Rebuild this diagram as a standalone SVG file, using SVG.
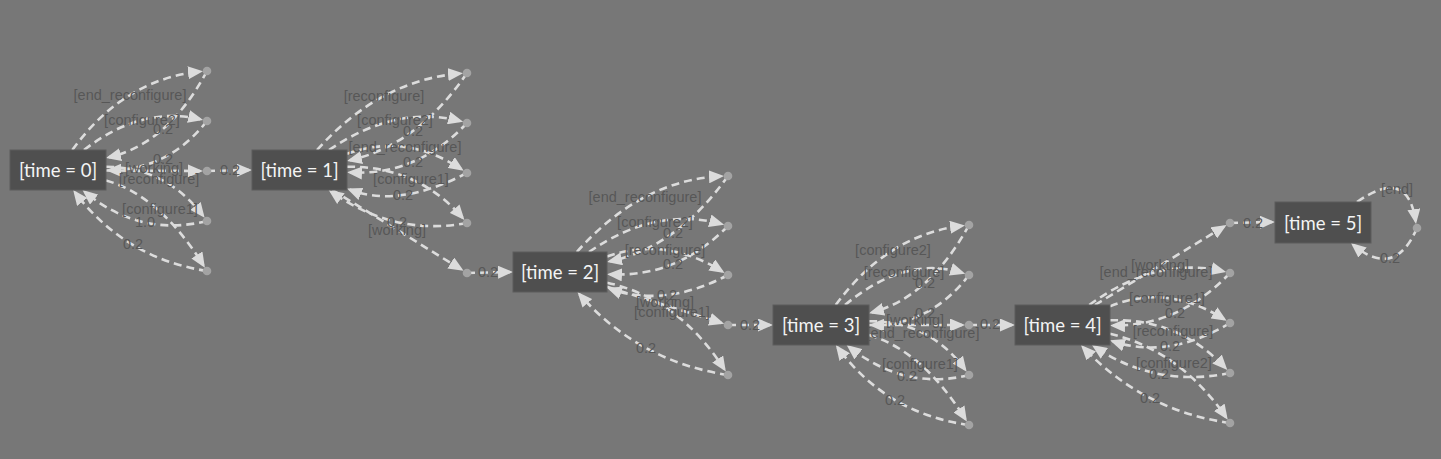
<svg xmlns="http://www.w3.org/2000/svg" width="1441" height="459" viewBox="0 0 1441 459">
<defs>
<marker id="ah" markerUnits="userSpaceOnUse" markerWidth="15" markerHeight="13" refX="12" refY="6.5" orient="auto" viewBox="0 0 15 13">
<path d="M0,0 L15,6.5 L0,13 z" fill="#dcdcdc"/>
</marker>
<style>
.e{fill:none;stroke:#dcdcdc;stroke-width:2.6;stroke-dasharray:8 5;marker-end:url(#ah)}
.l{font-family:"Liberation Sans",Arial,sans-serif;font-size:14.5px;fill:#575757;text-anchor:middle;dominant-baseline:central}
.b{fill:#4f4f4f;stroke:#5c5c5c;stroke-width:1}
.t{font-family:Lato,"Open Sans",sans-serif;font-size:18.5px;fill:#f4f4f4;text-anchor:middle;dominant-baseline:central}
.d{fill:#a3a3a3}
</style>
</defs>
<rect width="1441" height="459" fill="#777777"/>
<g id="connectors">
<!-- group 0 -->
<path class="e" d="M72.3,150 Q123.85,79.2 200,71.6"/>
<path class="e" d="M207,71 Q168.05,143.85 108.9,157.3"/>
<path class="e" d="M84,150 Q141.9,105.35 200.2,119.3"/>
<path class="e" d="M207,121 Q168,170.4 109,170.2"/>
<path class="e" d="M106,170.5 L200,171"/>
<path class="e" d="M207,171 L249,170"/>
<path class="e" d="M106,166.8 Q165.6,166.9 202.8,215.4"/>
<path class="e" d="M207,221 Q140.1,237.5 84.8,192"/>
<path class="e" d="M106,180.5 Q159.35,195.2 203.3,265.1"/>
<path class="e" d="M207,271 Q125,258.3 75,192.4"/>
<!-- group 1 -->
<path class="e" d="M317,150 Q379.55,80.25 460,73.5"/>
<path class="e" d="M467,73 Q417.55,145.25 349.9,160.3"/>
<path class="e" d="M329,150 Q396.2,104.45 460.25,121.1"/>
<path class="e" d="M467,123 Q417.5,175.8 350,172.5"/>
<path class="e" d="M347,153.8 Q405.9,132.5 461.2,169.15"/>
<path class="e" d="M467,173 Q397.6,208.75 349.8,189.5"/>
<path class="e" d="M347,166.7 Q417.25,165.8 462.5,217.7"/>
<path class="e" d="M467,223 Q394.95,236.6 331.1,191.8"/>
<path class="e" d="M332.4,190 L461,269.3"/>
<path class="e" d="M467,273 L510,272"/>
<!-- group 2 -->
<path class="e" d="M576.8,252 Q641.1,179.9 721,176.25"/>
<path class="e" d="M728,176 Q677.05,247.3 609.9,261.3"/>
<path class="e" d="M589,252 Q655.85,206 721.3,224"/>
<path class="e" d="M728,226 Q677,277.8 610,274.3"/>
<path class="e" d="M607,256.4 Q665.5,236.15 722,271.3"/>
<path class="e" d="M728,275 Q665.1,308.1 609.8,288.8"/>
<path class="e" d="M607,286.8 L721.3,322.9"/>
<path class="e" d="M728,325 L770,325"/>
<path class="e" d="M607,282.7 Q678.4,298.1 724.2,369.1"/>
<path class="e" d="M728,375 Q638.25,361.35 579.5,294.3"/>
<!-- group 3 -->
<path class="e" d="M835.7,305 Q887.5,234.6 962,225.8"/>
<path class="e" d="M969,225 Q929.55,297.3 871.9,312.4"/>
<path class="e" d="M845,305 Q905.1,255.1 962.35,272.8"/>
<path class="e" d="M969,275 Q929.5,326 872,325.1"/>
<path class="e" d="M869,325 L962,325"/>
<path class="e" d="M969,325 L1012,325"/>
<path class="e" d="M869,321.2 Q929.05,320.75 964.9,369.3"/>
<path class="e" d="M969,375 Q905,391 849,346.9"/>
<path class="e" d="M869,335 Q922.85,351 965.3,419"/>
<path class="e" d="M969,425 Q886.7,413.8 837.6,347.4"/>
<!-- group 4 -->
<path class="e" d="M1094.9,305 L1224,226.6"/>
<path class="e" d="M1230,223 L1272,222"/>
<path class="e" d="M1089.3,305 Q1156.55,255.85 1223.2,271.3"/>
<path class="e" d="M1230,273 Q1178.5,326.75 1113,325.5"/>
<path class="e" d="M1110,306.4 Q1166.95,283.2 1224.1,319.2"/>
<path class="e" d="M1230,323 Q1168.6,359.85 1112.8,341.3"/>
<path class="e" d="M1110,320.3 Q1178.35,317.9 1225.3,367.85"/>
<path class="e" d="M1230,373 Q1155.8,388.15 1094.4,346.7"/>
<path class="e" d="M1110,333.7 Q1180,350.55 1226.05,417.2"/>
<path class="e" d="M1230,423 Q1143.5,410.9 1083,347.2"/>
<!-- group 5 -->
<path class="e" d="M1357,202 Q1407.7,166.45 1415.6,221.1"/>
<path class="e" d="M1417,228 Q1394.85,279.55 1353.3,244.9"/>
</g>
<g id="edge-labels">
<text class="l" x="130" y="95">[end_reconfigure]</text>
<text class="l" x="142" y="120">[configure2]</text>
<text class="l" x="163" y="129">0.2</text>
<text class="l" x="163" y="159">0.2</text>
<text class="l" x="154" y="168">[working]</text>
<text class="l" x="159" y="179">[reconfigure]</text>
<text class="l" x="160" y="209">[configure1]</text>
<text class="l" x="145" y="222">1.0</text>
<text class="l" x="133" y="244">0.2</text>
<text class="l" x="230" y="170">0.2</text>

<text class="l" x="384" y="96">[reconfigure]</text>
<text class="l" x="395" y="120">[configure2]</text>
<text class="l" x="413" y="131">0.2</text>
<text class="l" x="405" y="147">[end_reconfigure]</text>
<text class="l" x="413" y="162">0.2</text>
<text class="l" x="411" y="179">[configure1]</text>
<text class="l" x="403" y="195">0.2</text>
<text class="l" x="397" y="222">0.2</text>
<text class="l" x="397" y="230">[working]</text>
<text class="l" x="488" y="272">0.2</text>

<text class="l" x="645" y="197">[end_reconfigure]</text>
<text class="l" x="655" y="222">[configure2]</text>
<text class="l" x="673" y="233">0.2</text>
<text class="l" x="665" y="250">[reconfigure]</text>
<text class="l" x="673" y="264">0.2</text>
<text class="l" x="667" y="295">0.2</text>
<text class="l" x="665" y="302">[working]</text>
<text class="l" x="672" y="312">[configure1]</text>
<text class="l" x="646" y="348">0.2</text>
<text class="l" x="750" y="325">0.2</text>

<text class="l" x="893" y="250">[configure2]</text>
<text class="l" x="904" y="272">[reconfigure]</text>
<text class="l" x="925" y="283">0.2</text>
<text class="l" x="925" y="313">0.2</text>
<text class="l" x="915" y="320">[working]</text>
<text class="l" x="923" y="333">[end_reconfigure]</text>
<text class="l" x="920" y="364">[configure1]</text>
<text class="l" x="907" y="376">0.2</text>
<text class="l" x="895" y="400">0.2</text>
<text class="l" x="990" y="324">0.2</text>

<text class="l" x="1160" y="265">[working]</text>
<text class="l" x="1156" y="272">[end_reconfigure]</text>
<text class="l" x="1167" y="298">[configure1]</text>
<text class="l" x="1175" y="313">0.2</text>
<text class="l" x="1173" y="331">[reconfigure]</text>
<text class="l" x="1170" y="346">0.2</text>
<text class="l" x="1174" y="363">[configure2]</text>
<text class="l" x="1159" y="374">0.2</text>
<text class="l" x="1150" y="398">0.2</text>
<text class="l" x="1253" y="223">0.2</text>

<text class="l" x="1397" y="189">[end]</text>
<text class="l" x="1390" y="258">0.2</text>
</g>
<g id="time0"><rect class="b" x="10" y="150" width="96" height="40"/><text class="t" x="58" y="170">[time = 0]</text></g>
<g id="time1"><rect class="b" x="252" y="150" width="95" height="40"/><text class="t" x="299.5" y="170">[time = 1]</text></g>
<g id="time2"><rect class="b" x="513" y="252" width="94" height="40"/><text class="t" x="560" y="272">[time = 2]</text></g>
<g id="time3"><rect class="b" x="773" y="305" width="96" height="40"/><text class="t" x="821" y="325">[time = 3]</text></g>
<g id="time4"><rect class="b" x="1015" y="305" width="95" height="40"/><text class="t" x="1062.5" y="325">[time = 4]</text></g>
<g id="time5"><rect class="b" x="1275" y="202" width="96" height="41"/><text class="t" x="1323" y="222.5">[time = 5]</text></g>
<g id="p0a"><circle class="d" cx="207" cy="71" r="4.3"/></g>
<g id="p0b"><circle class="d" cx="207" cy="121" r="4.3"/></g>
<g id="p0c"><circle class="d" cx="207" cy="171" r="4.3"/></g>
<g id="p0d"><circle class="d" cx="207" cy="221" r="4.3"/></g>
<g id="p0e"><circle class="d" cx="207" cy="271" r="4.3"/></g>
<g id="p1a"><circle class="d" cx="467" cy="73" r="4.3"/></g>
<g id="p1b"><circle class="d" cx="467" cy="123" r="4.3"/></g>
<g id="p1c"><circle class="d" cx="467" cy="173" r="4.3"/></g>
<g id="p1d"><circle class="d" cx="467" cy="223" r="4.3"/></g>
<g id="p1e"><circle class="d" cx="467" cy="273" r="4.3"/></g>
<g id="p2a"><circle class="d" cx="728" cy="176" r="4.3"/></g>
<g id="p2b"><circle class="d" cx="728" cy="226" r="4.3"/></g>
<g id="p2c"><circle class="d" cx="728" cy="275" r="4.3"/></g>
<g id="p2d"><circle class="d" cx="728" cy="325" r="4.3"/></g>
<g id="p2e"><circle class="d" cx="728" cy="375" r="4.3"/></g>
<g id="p3a"><circle class="d" cx="969" cy="225" r="4.3"/></g>
<g id="p3b"><circle class="d" cx="969" cy="275" r="4.3"/></g>
<g id="p3c"><circle class="d" cx="969" cy="325" r="4.3"/></g>
<g id="p3d"><circle class="d" cx="969" cy="375" r="4.3"/></g>
<g id="p3e"><circle class="d" cx="969" cy="425" r="4.3"/></g>
<g id="p4a"><circle class="d" cx="1230" cy="223" r="4.3"/></g>
<g id="p4b"><circle class="d" cx="1230" cy="273" r="4.3"/></g>
<g id="p4c"><circle class="d" cx="1230" cy="323" r="4.3"/></g>
<g id="p4d"><circle class="d" cx="1230" cy="373" r="4.3"/></g>
<g id="p4e"><circle class="d" cx="1230" cy="423" r="4.3"/></g>
<g id="p5a"><circle class="d" cx="1417" cy="228" r="4.3"/></g>
</svg>
